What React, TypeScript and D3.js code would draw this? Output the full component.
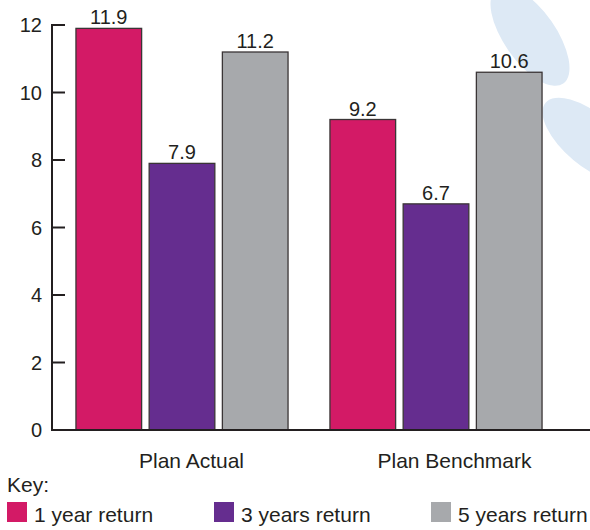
import { useMemo } from "react";
import * as d3 from "d3";

const categories = ["Plan Actual", "Plan Benchmark"];
const seriesNames = ["1 year return", "3 years return", "5 years return"];
const oneYearReturn = [11.9, 9.2];
const threeYearsReturn = [7.9, 6.7];
const fiveYearsReturn = [11.2, 10.6];
const seriesColors = ["#d31a66", "#652d8f", "#a7a9ac"];
const yTicks = [0, 2, 4, 6, 8, 10, 12];

const textColor = "#231f20";
const font = "'Liberation Sans', Arial, Helvetica, sans-serif";

export default function App() {
  const width = 590;
  const height = 530;
  const axisX = 52;
  const baseY = 430;
  const topY = 25;

  const seriesValues = [oneYearReturn, threeYearsReturn, fiveYearsReturn];

  const x0 = useMemo(
    () =>
      d3
        .scaleBand<string>()
        .domain(categories)
        .range([55, 563])
        .paddingInner(0.165)
        .paddingOuter(0.0825),
    []
  );

  const x1 = useMemo(
    () =>
      d3
        .scaleBand<string>()
        .domain(seriesNames)
        .range([0, x0.bandwidth()])
        .paddingInner(0.103)
        .paddingOuter(0),
    [x0]
  );

  // category labels sit a bit right of the bar groups
  const xLabel = useMemo(
    () => d3.scaleBand<string>().domain(categories).range([60, 586]),
    []
  );

  const y = useMemo(
    () => d3.scaleLinear().domain([0, 12]).range([baseY, topY]),
    []
  );

  const legendX = [7, 214, 431];

  return (
    <svg
      width={width}
      height={height}
      style={{ position: "absolute", left: 0, top: 0, background: "#fff" }}
      fontFamily={font}
    >
      {/* background decoration */}
      <g fill="#dde9f5">
        <ellipse cx={530} cy={36} rx={58} ry={26} transform="rotate(55 530 36)" />
        <ellipse cx={590} cy={140} rx={58} ry={26} transform="rotate(40 590 140)" />
      </g>

      {/* bars */}
      {categories.map((cat, ci) => (
        <g key={cat} transform={`translate(${x0(cat)},0)`}>
          {seriesNames.map((s, si) => {
            const v = seriesValues[si][ci];
            const bx = x1(s) ?? 0;
            return (
              <g key={s}>
                <rect
                  x={bx}
                  y={y(v)}
                  width={x1.bandwidth()}
                  height={baseY - y(v)}
                  fill={seriesColors[si]}
                  stroke="#3a3536"
                  strokeWidth={1.3}
                />
                <text
                  x={bx + x1.bandwidth() / 2}
                  y={y(v) - 4}
                  textAnchor="middle"
                  fontSize={20}
                  fill={textColor}
                >
                  {v.toFixed(1)}
                </text>
              </g>
            );
          })}
        </g>
      ))}

      {/* y axis */}
      <line x1={axisX} y1={topY - 1} x2={axisX} y2={baseY} stroke={textColor} strokeWidth={2} />
      {yTicks.map((t) => (
        <g key={t}>
          <line x1={axisX} x2={axisX + 13} y1={y(t)} y2={y(t)} stroke={textColor} strokeWidth={2} />
          <text
            x={42}
            y={y(t)}
            dy="0.36em"
            textAnchor="end"
            fontSize={20}
            fill={textColor}
          >
            {t}
          </text>
        </g>
      ))}
      {/* baseline */}
      <line x1={axisX - 1} x2={width} y1={baseY} y2={baseY} stroke={textColor} strokeWidth={2} />

      {/* category labels */}
      {categories.map((cat) => (
        <text
          key={cat}
          x={(xLabel(cat) ?? 0) + xLabel.bandwidth() / 2}
          y={468}
          textAnchor="middle"
          fontSize={21}
          fill={textColor}
        >
          {cat}
        </text>
      ))}

      {/* key */}
      <text x={7} y={492} fontSize={21} fill={textColor}>
        Key:
      </text>
      {seriesNames.map((s, i) => (
        <g key={s}>
          <rect x={legendX[i]} y={502} width={20} height={20} fill={seriesColors[i]} />
          <text x={legendX[i] + 27} y={522} fontSize={21} fill={textColor}>
            {s}
          </text>
        </g>
      ))}
    </svg>
  );
}
